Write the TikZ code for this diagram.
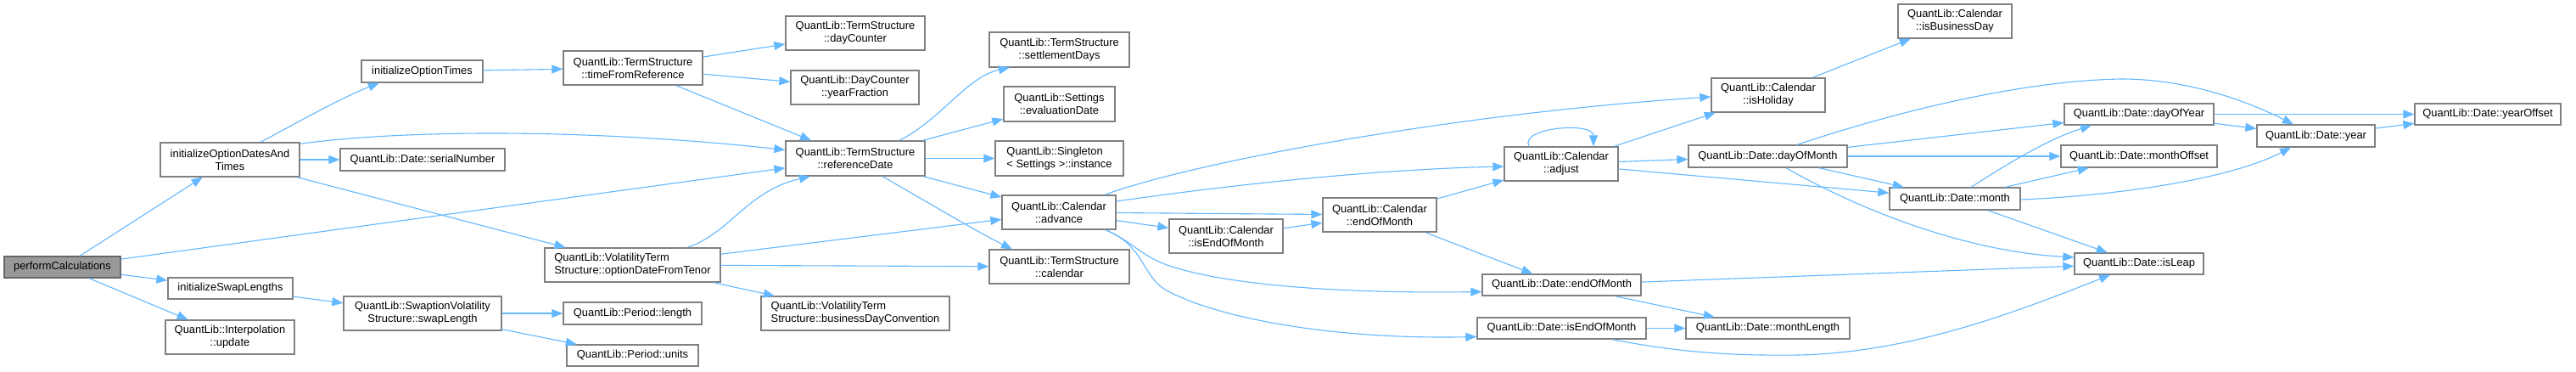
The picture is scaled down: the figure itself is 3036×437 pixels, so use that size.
\documentclass[tikz,border=0pt]{standalone}
\usepackage{fontspec}
\setmainfont{Liberation Sans}
\usetikzlibrary{arrows.meta,calc}
\definecolor{edgecol}{HTML}{63B8FF}
\definecolor{nodeborder}{HTML}{808080}
\definecolor{rootfill}{HTML}{999999}
\definecolor{rootborder}{HTML}{666666}
\begin{document}
\begin{tikzpicture}[x=1pt,y=-1pt,
  box/.style={draw=nodeborder, fill=white, line width=1.3pt, inner sep=0pt,
    font=\fontsize{12.9}{15}\selectfont, align=center, text=black},
  rootbox/.style={box, fill=rootfill, draw=rootborder},
  lbox/.style={box, align=left},
  edge/.style={draw=edgecol, line width=1.1pt, -{Triangle[length=13pt,width=10pt]}}]
\fill[white] (0,0) rectangle (3036,437);
\useasboundingbox (0,0) rectangle (3036,437);
% nodes
\node[rootbox, minimum width=137pt, minimum height=25pt] (pc) at (73.5,314.5) {performCalculations};
\node[box, minimum width=164pt, minimum height=40pt] (ioda) at (271,188) {initializeOptionDatesAnd\\Times};
\node[box, minimum width=143pt, minimum height=26pt] (iot) at (497.5,84) {initializeOptionTimes};
\node[box, minimum width=194pt, minimum height=26pt] (sn) at (498,188) {QuantLib::Date::serialNumber};
\node[box, minimum width=147pt, minimum height=25pt] (isl) at (271.5,339.5) {initializeSwapLengths};
\node[box, minimum width=152pt, minimum height=40pt] (iu) at (271,397) {QuantLib::Interpolation\\::update};
\node[box, minimum width=186pt, minimum height=40pt] (sl) at (498,369) {QuantLib::SwaptionVolatility\\Structure::swapLength};
\node[box, minimum width=164pt, minimum height=40pt] (tfr) at (746,80) {QuantLib::TermStructure\\::timeFromReference};
\node[box, minimum width=164pt, minimum height=40pt] (dc) at (1008,39) {QuantLib::TermStructure\\::dayCounter};
\node[box, minimum width=151pt, minimum height=40pt] (yf) at (1007.5,103) {QuantLib::DayCounter\\::yearFraction};
\node[box, minimum width=164pt, minimum height=41pt] (rd) at (1008,186.5) {QuantLib::TermStructure\\::referenceDate};
\node[lbox, minimum width=207pt, minimum height=40pt] (odft) at (745.5,312) {QuantLib::VolatilityTerm\\Structure::optionDateFromTenor};
\node[box, minimum width=163pt, minimum height=26pt] (pl) at (745.5,369) {QuantLib::Period::length};
\node[box, minimum width=155pt, minimum height=25pt] (pu) at (745.5,418.5) {QuantLib::Period::units};
\node[lbox, minimum width=222pt, minimum height=40pt] (bdc) at (1008,369) {QuantLib::VolatilityTerm\\Structure::businessDayConvention};
\node[box, minimum width=165pt, minimum height=41pt] (sd) at (1248.5,58.5) {QuantLib::TermStructure\\::settlementDays};
\node[box, minimum width=131pt, minimum height=41pt] (ed) at (1248.5,122.5) {QuantLib::Settings\\::evaluationDate};
\node[lbox, minimum width=151pt, minimum height=41pt] (si) at (1248.5,186.5) {QuantLib::Singleton\\< Settings >::instance};
\node[box, minimum width=134pt, minimum height=40pt] (adv) at (1248,250) {QuantLib::Calendar\\::advance};
\node[box, minimum width=165pt, minimum height=40pt] (cal) at (1248.5,314) {QuantLib::TermStructure\\::calendar};
\node[box, minimum width=134pt, minimum height=40pt] (ceom) at (1445,278) {QuantLib::Calendar\\::isEndOfMonth};
\node[box, minimum width=134pt, minimum height=40pt] (adj) at (1840,193) {QuantLib::Calendar\\::adjust};
\node[box, minimum width=134pt, minimum height=40pt] (cend) at (1626,253) {QuantLib::Calendar\\::endOfMonth};
\node[box, minimum width=187pt, minimum height=25pt] (dend) at (1840.5,335.5) {QuantLib::Date::endOfMonth};
\node[box, minimum width=199pt, minimum height=25pt] (diseom) at (1840.5,386.5) {QuantLib::Date::isEndOfMonth};
\node[box, minimum width=134pt, minimum height=40pt] (hol) at (2084,112) {QuantLib::Calendar\\::isHoliday};
\node[box, minimum width=134pt, minimum height=40pt] (bus) at (2304,25) {QuantLib::Calendar\\::isBusinessDay};
\node[box, minimum width=187pt, minimum height=26pt] (dom) at (2083.5,184) {QuantLib::Date::dayOfMonth};
\node[box, minimum width=176pt, minimum height=25pt] (doy) at (2521,134.5) {QuantLib::Date::dayOfYear};
\node[box, minimum width=184pt, minimum height=26pt] (mo) at (2521,184) {QuantLib::Date::monthOffset};
\node[box, minimum width=154pt, minimum height=26pt] (mon) at (2304,234) {QuantLib::Date::month};
\node[box, minimum width=152pt, minimum height=25pt] (leap) at (2521,310.5) {QuantLib::Date::isLeap};
\node[box, minimum width=193pt, minimum height=25pt] (ml) at (2083.5,386.5) {QuantLib::Date::monthLength};
\node[box, minimum width=139pt, minimum height=26pt] (yr) at (2729.5,160) {QuantLib::Date::year};
\node[box, minimum width=172pt, minimum height=25pt] (yo) at (2932,134.5) {QuantLib::Date::yearOffset};
% edges
\draw[edge] (pc) -- (ioda);
\draw[edge] (pc) -- (rd);
\draw[edge] (pc) -- (isl);
\draw[edge] (pc) -- (iu);
\draw[edge] ($(ioda.north)+(36,0)$) .. controls (340,150) and (400,116) .. ($(iot.south)+(-50.5,0)$);
\draw[edge] ($(ioda.north east)+(0,2)$) .. controls (480,152) and (700,152) .. ($(rd.west)+(0,-10)$);
\draw[edge] (ioda) -- (sn);
\draw[edge] (ioda) -- (odft);
\draw[edge] (iot) -- (tfr);
\draw[edge] (tfr) -- (dc);
\draw[edge] (tfr) -- (yf);
\draw[edge] (tfr) -- (rd);
\draw[edge] (isl) -- (sl);
\draw[edge] (sl) -- (pl);
\draw[edge] (sl) -- (pu);
\draw[edge] ($(odft.north)+(64.5,0)$) .. controls (860,275) and (880,225) .. ($(rd.south)+(-53,0)$);
\draw[edge] (odft) -- (adv);
\draw[edge] (odft) -- (cal);
\draw[edge] (odft) -- (bdc);
\draw[edge] ($(rd.north)+(52,0)$) .. controls (1110,140) and (1140,90) .. ($(sd.south)+(-58.5,0)$);
\draw[edge] (rd) -- (ed);
\draw[edge] (rd) -- (si);
\draw[edge] (rd) -- (adv);
\draw[edge] ($(rd.south)+(32,0)$) .. controls (1100,242) and (1150,272) .. ($(cal.north)+(-55.5,0)$);
\draw[edge] ($(adv.north)+(54,0)$) .. controls (1400,193) and (1700,135) .. ($(hol.west)+(0,2)$);
\draw[edge] ($(adv.east)+(0,-13)$) .. controls (1420,222) and (1600,200) .. ($(adj.west)+(0,3)$);
\draw[edge] (adv) -- (cend);
\draw[edge] (adv) -- (ceom);
\draw[edge] ($(adv.south)+(55,0)$) .. controls (1330,282) and (1345,300) .. (1370,310) .. controls (1430,333) and (1560,346) .. ($(dend.west)+(0,8)$);
\draw[edge] ($(adv.south)+(55,0)$) .. controls (1350,290) and (1345,325) .. (1375,342) .. controls (1430,372) and (1560,400) .. ($(diseom.west)+(0,10)$);
\draw[edge] (ceom) -- (cend);
\draw[edge] (cend) -- (adj);
\draw[edge] (cend) -- (dend);
\draw[edge] ($(adj.north)+(-38,0)$) .. controls (1790,150) and (1878,143) .. ($(adj.north)+(38,0)$);
\draw[edge] (adj) -- (hol);
\draw[edge] (adj) -- (dom);
\draw[edge] (adj) -- (mon);
\draw[edge] (hol) -- (bus);
\draw[edge] ($(dom.north)+(34.5,0)$) .. controls (2230,133) and (2380,95) .. (2500,93) .. controls (2580,93) and (2650,120) .. ($(yr.north)+(-26.5,0)$);
\draw[edge] (dom) -- (doy);
\draw[edge] (dom) -- (mo);
\draw[edge] (dom) -- (mon);
\draw[edge] ($(dom.south)+(21.5,0)$) .. controls (2170,235) and (2300,295) .. ($(leap.west)+(0,-7.5)$);
\draw[edge] ($(mon.north)+(19,0)$) .. controls (2360,197) and (2410,165) .. ($(doy.south)+(-56,0)$);
\draw[edge] (mon) -- (mo);
\draw[edge] ($(mon.east)+(0,1)$) .. controls (2500,230) and (2630,210) .. ($(yr.south)+(-29.5,0)$);
\draw[edge] (mon) -- (leap);
\draw[edge] (doy) -- (yo);
\draw[edge] (doy) -- (yr);
\draw[edge] (yr) -- (yo);
\draw[edge] (dend) -- (leap);
\draw[edge] (dend) -- (ml);
\draw[edge] (diseom) -- (ml);
\draw[edge] ($(diseom.south)+(59.5,0)$) .. controls (1980,415) and (2040,419) .. (2120,418) .. controls (2250,415) and (2370,370) .. ($(leap.south)+(-34,0)$);
\end{tikzpicture}
\end{document}
